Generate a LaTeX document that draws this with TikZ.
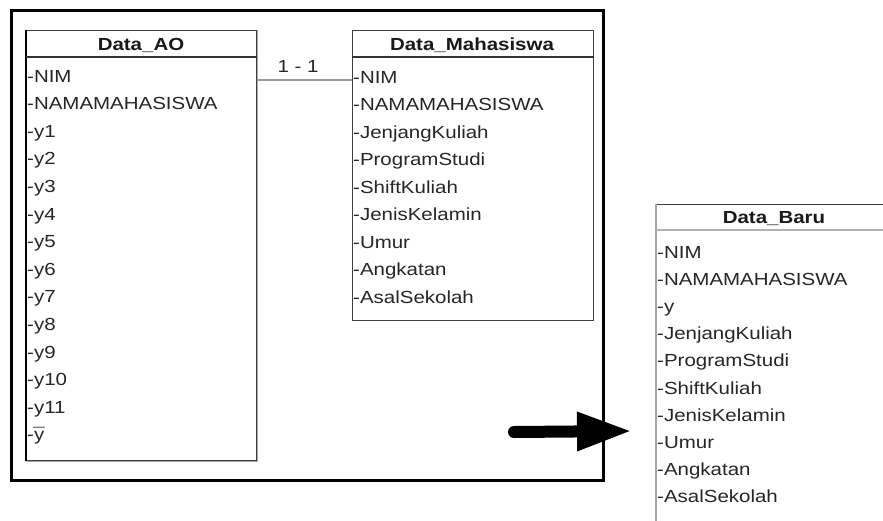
\documentclass[tikz,border=0pt]{standalone}
\usepackage{fontspec}
\setmainfont{Liberation Sans}[FakeStretch=1.17]
\usetikzlibrary{arrows.meta}
\begin{document}
\begin{tikzpicture}[x=1pt,y=-1pt,
  rowtxt/.style={anchor=base west, inner sep=0pt, font=\fontsize{17.5}{20}\selectfont, text=black!85},
  headtxt/.style={anchor=base, inner sep=0pt, font=\fontsize{17.5}{20}\selectfont\bfseries, text=black!90},
  tbl/.style={draw=black!75, line width=1.3pt, fill=white, anchor=north west, inner sep=0pt},
  hdrline/.style={draw=black!80, line width=1.5pt},
  conn/.style={draw=gray!80, line width=1.5pt},
  lbl/.style={inner sep=0pt, font=\fontsize{17.5}{20}\selectfont, text=black!85},
  frame/.style={draw=black, line width=3pt},
  bigarrow/.style={draw=black, line width=12pt, line cap=round, -{Triangle[length=55pt,width=36pt]}}]
\useasboundingbox (0,0) rectangle (883,520);
\clip (0,0) rectangle (883,520);
\fill[white] (0,0) rectangle (883,520);

% outer frame
\draw[frame] (11,10) rectangle (603,480);

% Data_AO
\node[tbl, minimum width=230pt, minimum height=430pt] (ao) at (26,30) {};
\draw[gray!70, line width=1.5pt] (ao.north east) -- (ao.south east) -- (ao.south west);
\draw[black, line width=1.5pt] (ao.north west) -- (ao.south west);
\draw[hdrline] ([yshift=-27pt]ao.north west) coordinate (aoh1) -- ([yshift=-27pt]ao.north east) coordinate (aoh2);
\node[headtxt] (aot) at (141,50) {Data\_AO};
\foreach \t [count=\i] in {-NIM,-NAMAMAHASISWA,-y1,-y2,-y3,-y4,-y5,-y6,-y7,-y8,-y9,-y10,-y11,-\accent"AF y}
  \node[rowtxt] (ao\i) at (27,{76+6+27.6*(\i-1)}) {\t};

% Data_Mahasiswa
\node[tbl, minimum width=241pt, minimum height=290pt] (dm) at (352,30) {};
\draw[hdrline] ([yshift=-27pt]dm.north west) coordinate (dmh1) -- ([yshift=-27pt]dm.north east) coordinate (dmh2);
\node[headtxt] (dmt) at (472,50) {Data\_Mahasiswa};
\foreach \t [count=\i] in {-NIM,-NAMAMAHASISWA,-JenjangKuliah,-ProgramStudi,-ShiftKuliah,-JenisKelamin,-Umur,-Angkatan,-AsalSekolah}
  \node[rowtxt] (dm\i) at (353,{77+6+27.5*(\i-1)}) {\t};

% relation
\draw[conn] ([yshift=-50pt]ao.north east) -- ([yshift=-50pt]dm.north west);
\node[lbl] (card) at (298,66) {1 - 1};

% Data_Baru
\node[tbl, minimum width=236pt, minimum height=400pt] (db) at (656,204) {};
\draw[gray!70, line width=1.5pt] (db.north west) -- (db.south west);
\draw[draw=gray!60, line width=1.5pt] ([yshift=-26pt]db.north west) coordinate (dbh1) -- ([yshift=-26pt]db.north east) coordinate (dbh2);
\node[headtxt] (dbt) at (774,223) {Data\_Baru};
\foreach \t [count=\i] in {-NIM,-NAMAMAHASISWA,-y,-JenjangKuliah,-ProgramStudi,-ShiftKuliah,-JenisKelamin,-Umur,-Angkatan,-AsalSekolah}
  \node[rowtxt] (db\i) at (657,{252+6+27.2*(\i-1)}) {\t};

% arrow
\coordinate (as) at (514,432);
\coordinate (ae) at (632,431);
\draw[bigarrow] (as) -- (ae);
\end{tikzpicture}
\end{document}
